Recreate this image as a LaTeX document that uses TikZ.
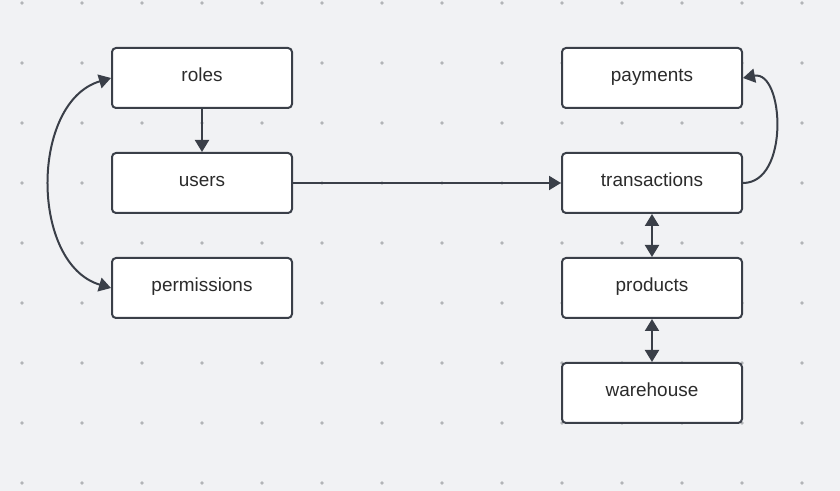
\documentclass[tikz,border=0pt]{standalone}
\usepackage{fontspec}
\setmainfont{Liberation Sans}
\usetikzlibrary{arrows.meta}
\definecolor{bg}{HTML}{F1F2F4}
\definecolor{dotc}{HTML}{B2B4B7}
\definecolor{edge}{HTML}{3A3F48}
\definecolor{txt}{HTML}{2B2B2B}
\begin{document}
\begin{tikzpicture}[x=0.75pt,y=-0.75pt,
  box/.style={draw=edge,line width=1.5pt,fill=white,rounded corners=3pt,
    minimum width=135pt,minimum height=45pt,inner sep=0pt,
    text height=10pt,text depth=4pt,
    font=\fontsize{14.2}{16}\selectfont,text=txt},
  conn/.style={draw=edge,line width=1.5pt,-{Triangle[length=9pt,width=10.5pt]}},
  dconn/.style={draw=edge,line width=1.5pt,
    {Triangle[length=9pt,width=10.5pt]}-{Triangle[length=9pt,width=10.5pt]}}]
\fill[bg] (0,0) rectangle (840,491);
\useasboundingbox (0,0) rectangle (840,491);
\foreach \i in {0,...,13}{\foreach \j in {0,...,8}{
  \fill[dotc] (22+60*\i,3+60*\j) circle (1.4pt);}}
\node[box] (roles) at (202,78) {roles};
\node[box] (users) at (202,183) {users};
\node[box] (perm) at (202,288) {permissions};
\node[box] (pay) at (652,78) {payments};
\node[box] (trans) at (652,183) {transactions};
\node[box] (prod) at (652,288) {products};
\node[box] (ware) at (652,393) {warehouse};
\draw[conn] (roles) -- (users);
\draw[conn] (users) -- (trans);
\draw[dconn] (trans) -- (prod);
\draw[dconn] (prod) -- (ware);
\draw[dconn] (roles.west) .. controls (30,102) and (30,264) .. (perm.west);
\draw[conn] (trans.east) .. controls (790,183) and (784,70) .. (pay.east);
\end{tikzpicture}
\end{document}
